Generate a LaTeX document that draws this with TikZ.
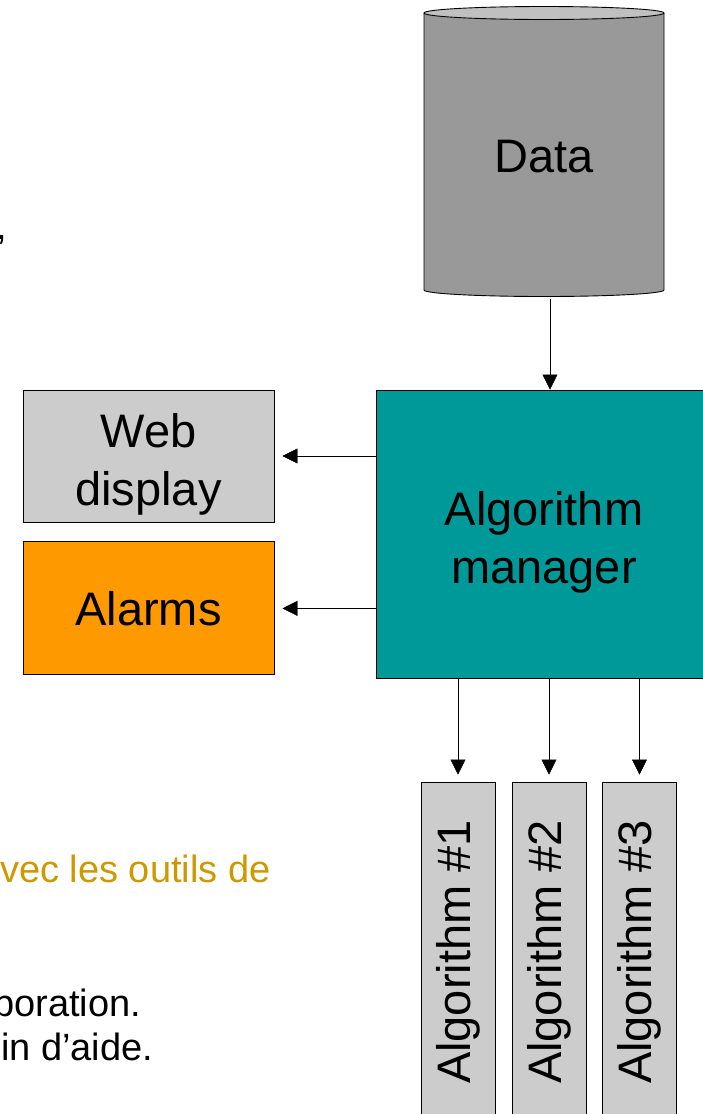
\documentclass[tikz,border=0pt]{standalone}
\usepackage{fontspec}
\setmainfont{Liberation Sans}
\usepackage{tikz}
\usepackage{xcolor}
\usetikzlibrary{positioning,arrows.meta}
\definecolor{datagrey}{HTML}{999999}
\definecolor{lidgrey}{HTML}{C0C0C0}
\definecolor{boxgrey}{HTML}{CCCCCC}
\definecolor{alarmorange}{HTML}{FF9900}
\definecolor{mgrteal}{HTML}{009999}
\definecolor{notegold}{HTML}{CC9900}
\tikzset{
  basic/.style     = {draw, line width=0.9pt, rectangle, align=center, inner sep=0pt,
                      font=\fontsize{47}{58}\selectfont},
  store/.style     = {rectangle, inner sep=0pt, minimum width=240pt, minimum height=284pt,
                      font=\fontsize{47}{58}\selectfont},
  two lines/.style = {text height=108pt, text depth=10pt},
  out box/.style   = {basic, two lines, fill=boxgrey, minimum width=251pt, minimum height=132pt},
  alarm box/.style = {basic, fill=alarmorange, minimum width=251pt, minimum height=133pt},
  manager/.style   = {basic, two lines, fill=mgrteal, minimum width=336pt, minimum height=288pt},
  algo/.style      = {basic, fill=boxgrey, rotate=90, minimum width=340pt, minimum height=74pt},
  note/.style      = {anchor=base west, inner sep=0pt, font=\fontsize{38}{44}\selectfont}
}

\begin{document}
\begin{tikzpicture}[x=1pt, y=-1pt, >={Triangle[length=15pt,width=15pt]}]
\useasboundingbox (0,0) rectangle (702,1114);

% the data store, a cylinder
\fill[datagrey] (424,13) -- (424,290)
  arc[start angle=180, end angle=360, x radius=120pt, y radius=6.5pt] -- (664,13) -- cycle;
\draw[line width=0.9pt] (424,13) -- (424,290)
  arc[start angle=180, end angle=360, x radius=120pt, y radius=6.5pt] -- (664,13);
\draw[line width=0.9pt, fill=lidgrey] (544,13) ellipse[x radius=120pt, y radius=6.5pt];
\node[store] (data) at (544,157) {Data};

% manager and its outputs
\node[manager] (mgr) at (544,534) {Algorithm\\manager};
\node[out box] (web) at (148.5,456) {Web\\display};
\node[alarm box, below=19pt of web] (alarm) {Alarms};

\draw[->] ([xshift=6pt]data.south) -- ([xshift=6pt]data.south |- mgr.north);
\draw[->, shorten >=8pt] (mgr.west |- web.east) -- (web.east);
\draw[->, shorten >=8pt] (mgr.west |- alarm.east) -- (alarm.east);

% the algorithms
\foreach \i/\x in {1/458,2/549,3/639.5}{
  \node[algo] (alg\i) at (\x,952) {Algorithm \#\i};
  \draw[->, shorten >=7pt] (alg\i.east |- mgr.south) -- (alg\i.east);
}

% text cut off at the left edge
\node[note] (tail) at (-4,239) {,};
\node[note, text=notegold] (tools) at (0,882) {vec les outils de};
\node[note] (collab) at (-7,1016) {boration.};
\node[note] (help) at (1,1060) {in d’aide.};

\end{tikzpicture}
\end{document}
